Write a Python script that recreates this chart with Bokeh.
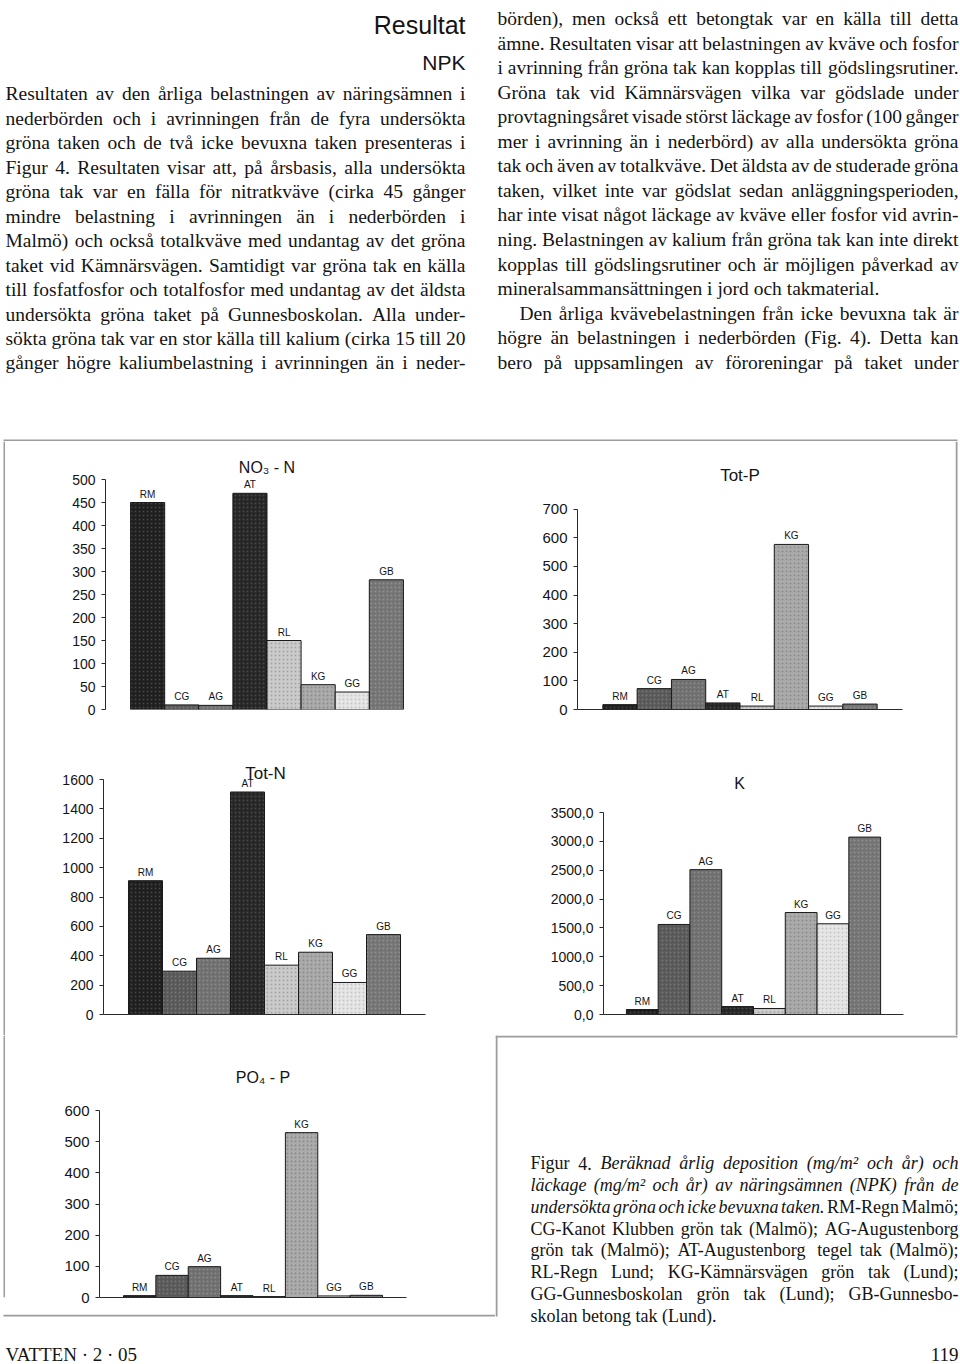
from bokeh.plotting import figure
from bokeh.layouts import column, row
from bokeh.models import Range1d, ColumnDataSource, LabelSet, Label, FixedTicker, LinearAxis
from bokeh.core.properties import value
from bokeh.embed import file_html
from bokeh.resources import INLINE

# ---------------- data (mg/m2 per year) ----------------
CATEGORIES = ["RM", "CG", "AG", "AT", "RL", "KG", "GG", "GB"]
NO3_N = [450, 10, 9, 470, 150, 54, 38, 282]
TOT_P = [17, 73, 105, 23, 12, 577, 12, 19]
TOT_N = [911, 295, 383, 1515, 336, 424, 218, 544]
K_VALUES = [86, 1560, 2510, 138, 104, 1767, 1572, 3074]
PO4_P = [6, 71, 99, 6, 3, 529, 5, 7]

NO3_TICKS = [0, 50, 100, 150, 200, 250, 300, 350, 400, 450, 500]
TOTP_TICKS = [0, 100, 200, 300, 400, 500, 600, 700]
TOTN_TICKS = [0, 200, 400, 600, 800, 1000, 1200, 1400, 1600]
K_TICKS = [0, 500, 1000, 1500, 2000, 2500, 3000, 3500]
K_TICK_LABELS = ["0,0", "500,0", "1000,0", "1500,0", "2000,0", "2500,0", "3000,0", "3500,0"]
PO4_TICKS = [0, 100, 200, 300, 400, 500, 600]

# ---------------- page text ----------------
LEFT_LINES = [
    "Resultaten av den årliga belastningen av näringsämnen i",
    "nederbörden och i avrinningen från de fyra undersökta",
    "gröna taken och de två icke bevuxna taken presenteras i",
    "Figur 4. Resultaten visar att, på årsbasis, alla undersökta",
    "gröna tak var en fälla för nitratkväve (cirka 45 gånger",
    "mindre belastning i avrinningen än i nederbörden i",
    "Malmö) och också totalkväve med undantag av det gröna",
    "taket vid Kämnärsvägen. Samtidigt var gröna tak en källa",
    "till fosfatfosfor och totalfosfor med undantag av det äldsta",
    "undersökta gröna taket på Gunnesboskolan. Alla under-",
    "sökta gröna tak var en stor källa till kalium (cirka 15 till 20",
    "gånger högre kaliumbelastning i avrinningen än i neder-",
]
RIGHT_LINES = [
    "börden), men också ett betongtak var en källa till detta",
    "ämne. Resultaten visar att belastningen av kväve och fosfor",
    "i avrinning från gröna tak kan kopplas till gödslingsrutiner.",
    "Gröna tak vid Kämnärsvägen vilka var gödslade under",
    "provtagningsåret visade störst läckage av fosfor (100 gånger",
    "mer i avrinning än i nederbörd) av alla undersökta gröna",
    "tak och även av totalkväve. Det äldsta av de studerade gröna",
    "taken, vilket inte var gödslat sedan anläggningsperioden,",
    "har inte visat något läckage av kväve eller fosfor vid avrin-",
    "ning. Belastningen av kalium från gröna tak kan inte direkt",
    "kopplas till gödslingsrutiner och är möjligen påverkad av",
    "mineralsammansättningen i jord och takmaterial.",
    "Den årliga kvävebelastningen från icke bevuxna tak är",
    "högre än belastningen i nederbörden (Fig. 4). Detta kan",
    "bero på uppsamlingen av föroreningar på taket under",
]
RIGHT_NOT_JUSTIFIED = [11]
RIGHT_INDENTED = [12]
# caption lines: (roman prefix, italic middle, roman suffix)
CAPTION_LINES = [
    ("Figur 4.", "Beräknad årlig deposition (mg/m² och år) och", ""),
    ("", "läckage (mg/m² och år) av näringsämnen (NPK) från de", ""),
    ("", "undersökta gröna och icke bevuxna taken.", "RM-Regn Malmö;"),
    ("CG-Kanot Klubben grön tak (Malmö); AG-Augustenborg", "", ""),
    ("grön tak (Malmö); AT-Augustenborg tegel tak (Malmö);", "", ""),
    ("RL-Regn Lund; KG-Kämnärsvägen grön tak (Lund);", "", ""),
    ("GG-Gunnesboskolan grön tak (Lund); GB-Gunnesbo-", "", ""),
    ("skolan betong tak (Lund).", "", ""),
]

# ---------------- styles ----------------
BAR_COLORS = ["#1e1e1e", "#585858", "#6e6e6e", "#262626", "#cbcbcb", "#ababab", "#e6e6e6", "#737373"]
BAR_SPECKLE = ["#5a5a5a", "#8c8c8c", "#9e9e9e", "#5e5e5e", "#8e8e8e", "#777777", "#b0b0b0", "#a4a4a4"]
FRAME = "#9c9c9c"
SERIF = "Liberation Serif"
SANS = "Liberation Sans"
INK = "#141414"

ROMAN_W = {" ": 250, "(": 333, ")": 333, ",": 250, "-": 333, ".": 250, "/": 278, ":": 278, ";": 278,
           "²": 300, "0": 500, "1": 500, "2": 500, "3": 500, "4": 500, "5": 500, "6": 500, "7": 500,
           "8": 500, "9": 500,
           "A": 722, "B": 667, "C": 667, "D": 722, "E": 611, "F": 556, "G": 722, "H": 722, "I": 333,
           "J": 389, "K": 722, "L": 611, "M": 889, "N": 722, "O": 722, "P": 556, "Q": 722, "R": 667,
           "S": 556, "T": 611, "U": 722, "V": 722, "W": 944, "X": 722, "Y": 722, "Z": 611,
           "a": 444, "b": 500, "c": 444, "d": 500, "e": 444, "f": 333, "g": 500, "h": 500, "i": 278,
           "j": 278, "k": 500, "l": 278, "m": 778, "n": 500, "o": 500, "p": 500, "q": 500, "r": 333,
           "s": 389, "t": 278, "u": 500, "v": 500, "w": 722, "x": 500, "y": 500, "z": 444,
           "å": 444, "ä": 444, "ö": 500, "Ä": 722, "Å": 722, "Ö": 722}
ITALIC_W = dict(ROMAN_W)
ITALIC_W.update({"A": 611, "B": 611, "K": 667, "M": 833, "N": 667, "P": 611, "R": 611, "S": 500,
                 "a": 500, "f": 278, "k": 444, "m": 722, "r": 389, "v": 444, "w": 667, "x": 444,
                 "y": 444, "z": 389, "å": 500, "ä": 500})


def word_width(word, italic, size):
    tbl = ITALIC_W if italic else ROMAN_W
    return sum(tbl.get(c, 500) for c in word) * size / 1000.0


def place_line(tokens, left, right, y, size, justify, out):
    widths = [word_width(w, it, size) for w, it in tokens]
    n = len(tokens)
    gap = (right - left - sum(widths)) / (n - 1) if (justify and n > 1) else 0.25 * size
    x = left
    for i, ((w, it), wd) in enumerate(zip(tokens, widths)):
        if justify and n > 1 and i == n - 1:
            key = (it, "right")
            xx = right
        else:
            key = (it, "left")
            xx = x
        d = out.setdefault(key, {"x": [], "y": [], "text": []})
        d["x"].append(xx)
        d["y"].append(y)
        d["text"].append(w)
        x += wd + gap


def draw_words(p, out, size):
    for (it, align), d in out.items():
        p.text(x="x", y="y", text="text", source=ColumnDataSource(d), text_align=align,
               text_baseline="alphabetic", text_font=value(SERIF),
               text_font_style="italic" if it else "normal",
               text_font_size=f"{size}px", text_color=INK)


def canvas(w, h, x0, x1, top, bottom):
    p = figure(width=w, height=h, x_range=Range1d(x0, x1), y_range=Range1d(bottom, top),
               x_axis_type=None, y_axis_type=None, toolbar_location=None, output_backend="svg",
               min_border=0, outline_line_color=None,
               background_fill_color="white", border_fill_color="white")
    return p


def frame_rect(p, l, r, t, b):
    p.quad(left=[l], right=[r], top=[t], bottom=[b], fill_color=FRAME, line_color=None)


def chart(values, ticks, tick_labels, title, title_size, w, h, borders, pad,
          title_dx, title_dy, show_xaxis, tick_size):
    bl, br, bt, bb = borders
    ymax = ticks[-1]
    ppu = (h - bt - bb) / ymax          # pixels per data unit
    y_end = ymax + bt / ppu             # let the frame reach the top of the canvas
    n = len(CATEGORIES)
    p = figure(width=w, height=h, x_range=Range1d(-0.5 - pad, n - 0.5 + pad),
               y_range=Range1d(0, y_end), x_axis_type=None, y_axis_type=None,
               toolbar_location=None, output_backend="svg",
               min_border_left=bl, min_border_right=br, min_border_top=0, min_border_bottom=bb,
               outline_line_color=None, background_fill_color="white", border_fill_color="white")
    yaxis = LinearAxis(ticker=FixedTicker(ticks=ticks), bounds=(0, ymax), major_tick_in=0,
                       major_tick_out=4, minor_tick_line_color=None, axis_line_color="#2a2a2a",
                       major_tick_line_color="#2a2a2a", major_label_text_font=SANS,
                       major_label_text_font_size=f"{tick_size}px", major_label_standoff=6,
                       major_label_text_color=INK)
    if tick_labels:
        yaxis.major_label_overrides = {t: s for t, s in zip(ticks, tick_labels)}
    p.add_layout(yaxis, "left")
    if show_xaxis:
        xaxis = LinearAxis(ticker=FixedTicker(ticks=[]), axis_line_color="#2a2a2a",
                           major_tick_line_color=None, minor_tick_line_color=None,
                           major_label_text_font_size="0px", major_label_standoff=0)
        p.add_layout(xaxis, "below")
    src = ColumnDataSource(dict(x=list(range(n)), top=values, cat=CATEGORIES, color=BAR_COLORS,
                                speckle=BAR_SPECKLE))
    p.vbar(x="x", top="top", bottom=0, width=1.0, fill_color="color", line_color="#1a1a1a",
           line_width=1, hatch_pattern="dot", hatch_color="speckle", hatch_scale=4,
           hatch_weight=1, hatch_alpha=0.6, source=src)
    p.add_layout(LabelSet(x="x", y="top", text="cat", source=src, text_align="center",
                          text_baseline="alphabetic", y_offset=5, text_font=value(SANS),
                          text_font_size="10px", text_color=INK))
    p.add_layout(Label(x=(n - 1) / 2, y=ymax, x_offset=title_dx, y_offset=title_dy, text=title,
                       text_align="center", text_baseline="middle", text_font=SANS,
                       text_font_size=f"{title_size}px", text_color=INK))
    return p


# ---------------- top text block ----------------
BODY = 19.5
text_fig = canvas(960, 441, 0, 960, 0, 441)
text_fig.text(x=[465], y=[24], text=["Resultat"], text_align="right", text_baseline="alphabetic",
              text_font=value(SANS), text_font_size="25px", text_color=INK)
text_fig.text(x=[465], y=[61.5], text=["NPK"], text_align="right", text_baseline="alphabetic",
              text_font=value(SANS), text_font_size="21px", text_color=INK)
words = {}
for k, line in enumerate(LEFT_LINES):
    place_line([(w, False) for w in line.split()], 5, 465, 93.3 + 24.47 * k, BODY, True, words)
for k, line in enumerate(RIGHT_LINES):
    left = 519 if k in RIGHT_INDENTED else 497
    place_line([(w, False) for w in line.split()], left, 958, 18 + 24.55 * k, BODY,
               k not in RIGHT_NOT_JUSTIFIED, words)
draw_words(text_fig, words, BODY)
frame_rect(text_fig, 3, 957, 439, 441)

# ---------------- charts ----------------
no3 = chart(NO3_N, NO3_TICKS, None, "NO₃ - N", 16, 475, 309, (100, 52, 38, 41), 0.735,
            0, 12, False, 14)
totp = chart(TOT_P, TOTP_TICKS, None, "Tot-P", 17, 475, 309, (97, 53, 69, 36), 0.74,
             0, 34, True, 15)
totn = chart(TOT_N, TOTN_TICKS, None, "Tot-N", 17, 475, 285, (98, 55, 29, 21), 0.735,
             1, 6, True, 14)
kfig = chart(K_VALUES, K_TICKS, K_TICK_LABELS, "K", 16, 475, 285, (123, 52, 62, 21), 0.72,
             -14, 29, True, 14)
po4 = chart(PO4_P, PO4_TICKS, None, "PO₄ - P", 16, 490, 279, (94, 89, 75, 17), 0.74,
            10, 33, True, 15)

left_mid = canvas(5, 594, 0, 5, 441, 1035)
frame_rect(left_mid, 3, 5, 441, 1035)
right_mid = canvas(5, 594, 955, 960, 441, 1035)
frame_rect(right_mid, 955, 957, 441, 1035)
left_low = canvas(5, 279, 0, 5, 1035, 1314)
frame_rect(left_low, 3, 5, 1035, 1314)

footer_left = canvas(495, 50, 0, 495, 1314, 1364)
frame_rect(footer_left, 3, 497, 1314, 1316)
footer_left.text(x=[5], y=[1354], text=["VATTEN · 2 · 05"], text_align="left",
                 text_baseline="alphabetic", text_font=value(SERIF), text_font_size="19px",
                 text_color=INK)

CAP = 18
caption = canvas(465, 329, 495, 960, 1035, 1364)
frame_rect(caption, 495, 497, 1035, 1316)
frame_rect(caption, 495, 957, 1035, 1037)
cwords = {}
for k, (pre, ital, post) in enumerate(CAPTION_LINES):
    toks = [(w, False) for w in pre.split()] + [(w, True) for w in ital.split()] + \
           [(w, False) for w in post.split()]
    place_line(toks, 530, 958, 1162.7 + 21.8 * k, CAP, k < len(CAPTION_LINES) - 1, cwords)
draw_words(caption, cwords, CAP)
caption.text(x=[958], y=[1354], text=["119"], text_align="right", text_baseline="alphabetic",
             text_font=value(SERIF), text_font_size="19px", text_color=INK)

layout = column(
    text_fig,
    row(left_mid, column(row(no3, totp), row(totn, kfig)), right_mid),
    row(column(row(left_low, po4), footer_left), caption),
)

open("out.html", "w").write(file_html(layout, INLINE))
